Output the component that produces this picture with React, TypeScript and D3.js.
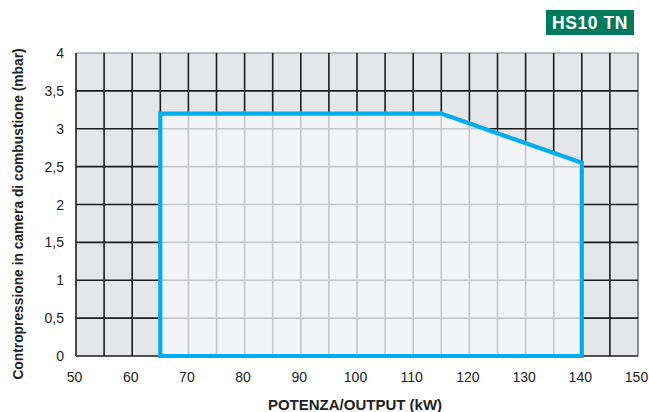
import * as d3 from "d3";

// burner working field
const envelopeKw = [65, 65, 115, 140, 140];
const envelopeMbar = [0, 3.2, 3.2, 2.55, 0];

const xTicks = [50, 60, 70, 80, 90, 100, 110, 120, 130, 140, 150];
const yTicks = [0, 0.5, 1, 1.5, 2, 2.5, 3, 3.5, 4];
const xGrid = [50, 55, 60, 65, 70, 75, 80, 85, 90, 95, 100, 105, 110, 115, 120, 125, 130, 135, 140, 145];
const yGrid = [0, 0.5, 1, 1.5, 2, 2.5, 3, 3.5];

const modelName = "HS10 TN";
const xTitle = "POTENZA/OUTPUT (kW)";
const yTitle = "Contropressione in camera di combustione (mbar)";

const W = 649;
const H = 412;
const font = "'Liberation Sans', Arial, sans-serif";

export default function App() {
  const x = d3.scaleLinear().domain([50, 150]).range([76, 638]);
  const y = d3.scaleLinear().domain([0, 4]).range([356, 53]);

  const pts: [number, number][] = envelopeKw.map((k, i) => [x(k), y(envelopeMbar[i])]);
  const area = d3.line()(pts) + "Z";
  const fmt = (v: number) => String(v).replace(".", ",");

  return (
    <svg width={W} height={H} style={{ position: "absolute", left: 0, top: 0 }} fontFamily={font}>
      <defs>
        <clipPath id="env">
          <path d={area} />
        </clipPath>
      </defs>
      <rect x={x(50)} y={y(4)} width={x(150) - x(50)} height={y(0) - y(4)} fill="#e4e6e9" />
      {/* outer frame: top and right lighter */}
      <line x1={x(50)} x2={x(150)} y1={y(4)} y2={y(4)} stroke="#a9acaf" strokeWidth={1.5} />
      <line x1={x(150)} x2={x(150)} y1={y(4)} y2={y(0)} stroke="#6d6f72" strokeWidth={1.5} />
      {xGrid.map((v) => (
        <line key={"vx" + v} x1={x(v)} x2={x(v)} y1={y(4)} y2={y(0)} stroke="#1c1c1c" strokeWidth={1.6} />
      ))}
      {yGrid.map((v) => (
        <line key={"hy" + v} x1={x(50)} x2={x(150)} y1={y(v)} y2={y(v)} stroke="#1c1c1c" strokeWidth={1.6} />
      ))}
      <g clipPath="url(#env)">
        <path d={area} fill="#f3f4f6" />
        {xGrid.map((v) => (
          <line key={"ix" + v} x1={x(v)} x2={x(v)} y1={y(4)} y2={y(0)} stroke="#c3c8cc" strokeWidth={1.6} />
        ))}
        {yGrid.map((v) => (
          <line key={"iy" + v} x1={x(50)} x2={x(150)} y1={y(v)} y2={y(v)} stroke="#c3c8cc" strokeWidth={1.6} />
        ))}
      </g>
      <path d={area} fill="none" stroke="#00aeef" strokeWidth={4.2} strokeLinejoin="miter" />

      {yTicks.map((v) => (
        <text key={"yt" + v} x={64} y={y(v)} dy="0.36em" textAnchor="end" fontSize={14} fill="#222">
          {fmt(v)}
        </text>
      ))}
      {xTicks.map((v) => (
        <text key={"xt" + v} x={x(v) - 1.5} y={382} textAnchor="middle" fontSize={14} fill="#222">
          {v}
        </text>
      ))}
      <text x={355} y={410} textAnchor="middle" fontSize={15} fontWeight="bold" fill="#222">
        {xTitle}
      </text>
      <text
        transform={`translate(23,${214}) rotate(-90)`}
        textAnchor="middle"
        fontSize={13.8}
        fontWeight="bold"
        fill="#222"
      >
        {yTitle}
      </text>

      <rect x={546} y={10} width={88} height={25} fill="#007a5c" />
      <text x={590} y={28.5} textAnchor="middle" fontSize={17.5} fontWeight="bold" fill="#fff" letterSpacing={0.6}>
        {modelName}
      </text>
    </svg>
  );
}
